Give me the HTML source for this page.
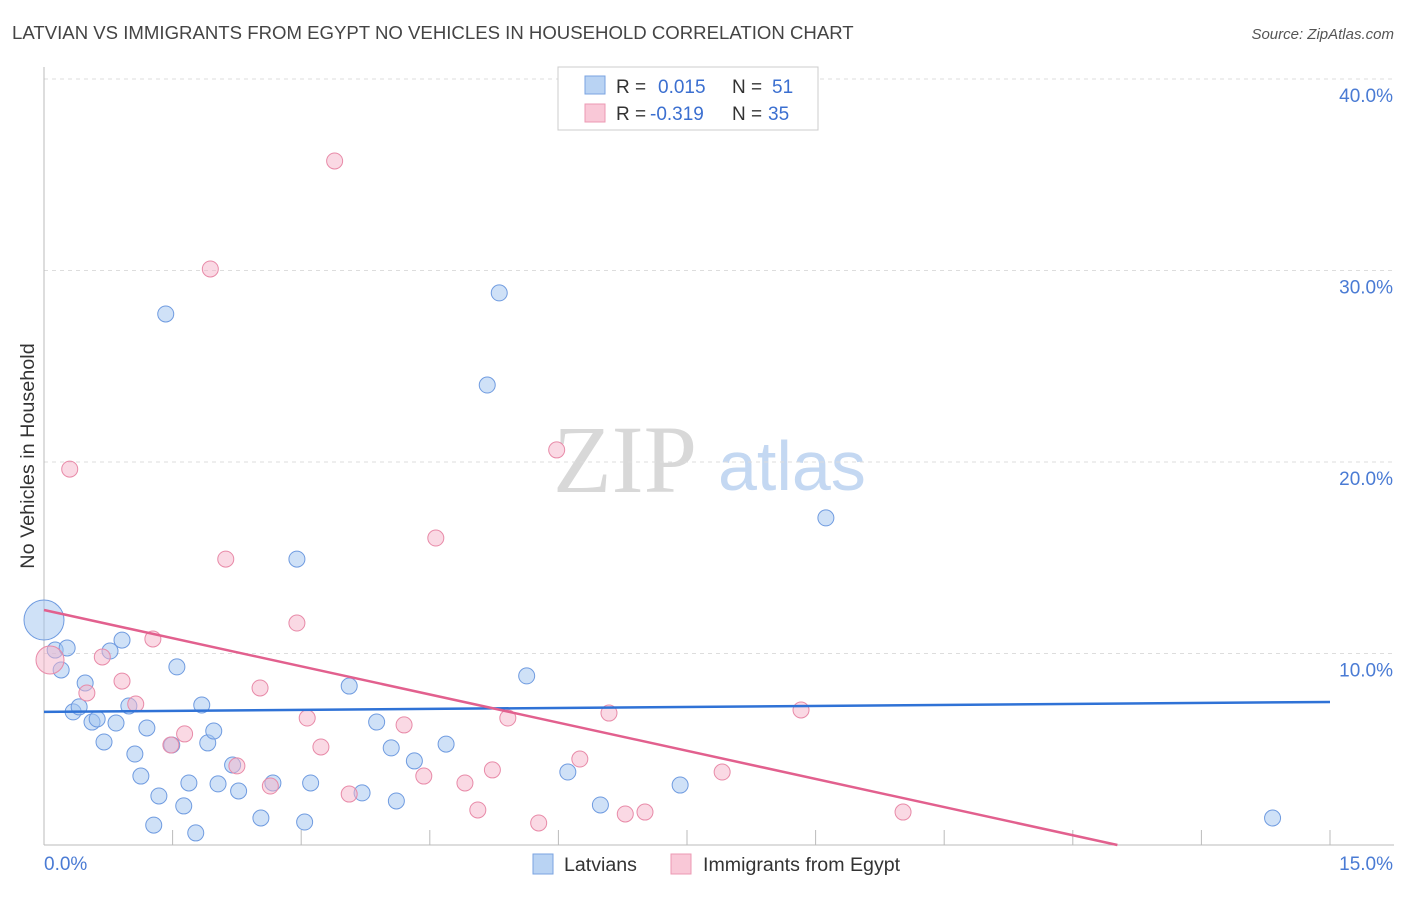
<!DOCTYPE html>
<html><head><meta charset="utf-8"><style>
body{margin:0;background:#fff;font-family:"Liberation Sans",sans-serif;}
svg text{font-family:"Liberation Sans",sans-serif;}
</style></head><body>
<svg id="chart" width="1406" height="892" xmlns="http://www.w3.org/2000/svg">
<text x="12" y="39" font-size="18.6" fill="#444">LATVIAN VS IMMIGRANTS FROM EGYPT NO VEHICLES IN HOUSEHOLD CORRELATION CHART</text>
<text x="1394" y="39" font-size="15" fill="#555" text-anchor="end" font-style="italic">Source: ZipAtlas.com</text>
<text x="553" y="492" font-size="96" fill="#d8d8d8" font-family="Liberation Serif" style="font-family:'Liberation Serif',serif">ZIP</text>
<text x="718" y="490" font-size="70" fill="#c4d8f2">atlas</text>
<text transform="translate(34,456) rotate(-90)" font-size="19.8" fill="#333" text-anchor="middle">No Vehicles in Household</text>
<g id="grid"></g><g id="pts"></g><g id="trends"></g>
<g>
<rect x="558" y="67" width="260" height="63" fill="#fff" stroke="#ccc"/>
<rect x="585" y="76" width="20" height="18" fill="#b9d3f3" stroke="#7aa3e0"/>
<text x="616" y="93" font-size="19" fill="#333">R =</text><text x="658" y="93" font-size="19" fill="#3b6fd0">0.015</text>
<text x="732" y="93" font-size="19" fill="#333">N =</text><text x="772" y="93" font-size="19" fill="#3b6fd0">51</text>
<rect x="585" y="104" width="20" height="18" fill="#f9c8d7" stroke="#ec99b3"/>
<text x="616" y="120" font-size="19" fill="#333">R =</text><text x="650" y="120" font-size="19" fill="#3b6fd0">-0.319</text>
<text x="732" y="120" font-size="19" fill="#333">N =</text><text x="768" y="120" font-size="19" fill="#3b6fd0">35</text>
</g>
<g>
<rect x="533" y="854" width="20" height="20" fill="#b9d3f3" stroke="#7aa3e0"/>
<text x="564" y="871" font-size="19.6" fill="#333">Latvians</text>
<rect x="671" y="854" width="20" height="20" fill="#f9c8d7" stroke="#ec99b3"/>
<text x="703" y="871" font-size="19.6" fill="#333">Immigrants from Egypt</text>
</g>
</svg>
<script>
const blueX=[0.00,0.13,0.20,0.27,0.48,0.34,0.41,0.56,0.62,0.70,0.77,0.84,0.91,0.99,1.06,1.13,1.20,1.28,1.34,1.42,1.49,1.55,1.63,1.69,1.77,1.84,1.91,1.98,2.03,2.20,2.27,2.53,2.67,2.95,3.04,3.11,3.56,3.71,3.88,4.05,4.11,4.32,4.69,5.17,5.31,5.63,6.11,6.49,7.42,9.12,14.33];
const blueY=[11.75,10.18,9.14,10.29,8.46,6.95,7.21,6.42,6.58,5.38,10.13,6.37,10.70,7.26,4.75,3.60,6.11,1.04,2.56,27.73,5.22,9.30,2.04,3.24,0.63,7.31,5.33,5.95,3.19,4.18,2.82,1.41,3.24,14.93,1.20,3.24,8.30,2.72,6.42,5.07,2.30,4.39,5.27,24.02,28.83,8.83,3.81,2.09,3.13,17.08,1.41];
const pinkX=[0.07,0.30,0.50,0.68,0.91,1.07,1.27,1.48,1.64,1.94,2.12,2.25,2.52,2.64,2.95,3.07,3.23,3.39,3.56,4.20,4.43,4.57,4.91,5.06,5.23,5.41,5.77,5.98,6.25,6.59,6.78,7.01,7.91,8.83,10.02];
const pinkY=[9.66,19.63,7.94,9.82,8.56,7.36,10.76,5.22,5.80,30.08,14.93,4.13,8.20,3.08,11.59,6.63,5.12,35.72,2.66,6.27,3.60,16.03,3.24,1.83,3.92,6.63,1.15,20.63,4.49,6.89,1.62,1.72,3.81,7.05,1.72];
const blueTrend=[6.95,7.47];
const pinkTrend=[12.27,-0.0];
const pinkTrendEndX=12.52;
const yTicks=[10,20,30,40];
const yTickLabels=["10.0%","20.0%","30.0%","40.0%"];
const xTicks=[1.5,3,4.5,6,7.5,9,10.5,12,13.5,15];
const NS="http://www.w3.org/2000/svg";
const sx=v=>44+v/15*1286, sy=v=>845-v*19.15;
function mk(tag,attrs,parent){const e=document.createElementNS(NS,tag);for(const k in attrs)e.setAttribute(k,attrs[k]);parent.appendChild(e);return e;}
const grid=document.getElementById('grid');
yTicks.forEach((t,i)=>{
 const l=mk('line',{x1:44,x2:1394,y1:sy(t),y2:sy(t),stroke:'#ddd','stroke-dasharray':'4,4'},grid);
 
 
 const tx=mk('text',{x:1393,y:sy(t)+23,'font-size':19,fill:'#4a7bd4','text-anchor':'end'},grid);
 tx.textContent=yTickLabels[i];
 
 
});
const ax=mk('line',{x1:44,x2:44,y1:67,y2:845,stroke:'#bbb'},grid);


const bx=mk('line',{x1:44,x2:1394,y1:845,y2:845,stroke:'#bbb'},grid);


xTicks.forEach(t=>{
 const l=mk('line',{x1:sx(t),x2:sx(t),y1:830,y2:845,stroke:'#bbb'},grid);
 
 
});
const x0=mk('text',{x:44,y:870,'font-size':19,fill:'#4a7bd4'},grid);x0.textContent='0.0%';


const x1=mk('text',{x:1393,y:870,'font-size':19,fill:'#4a7bd4','text-anchor':'end'},grid);x1.textContent='15.0%';


const pts=document.getElementById('pts');
blueX.forEach((x,i)=>{
 const c=mk('circle',{cx:sx(x),cy:sy(blueY[i]),r:i===0?20:8,fill:'rgba(160,195,240,0.5)',stroke:'#6f9be0','stroke-width':1},pts);
 
 
});
pinkX.forEach((x,i)=>{
 const c=mk('circle',{cx:sx(x),cy:sy(pinkY[i]),r:i===0?14:8,fill:'rgba(246,180,202,0.5)',stroke:'#e88aa8','stroke-width':1},pts);
 
 
});
const tr=document.getElementById('trends');
const bl=mk('line',{x1:sx(0),y1:sy(blueTrend[0]),x2:sx(15),y2:sy(blueTrend[1]),stroke:'#2f72d6','stroke-width':2.5},tr);


const pl=mk('line',{x1:sx(0),y1:sy(pinkTrend[0]),x2:sx(pinkTrendEndX),y2:sy(pinkTrend[1]),stroke:'#e2608e','stroke-width':2.5},tr);


</script>
</body></html>
